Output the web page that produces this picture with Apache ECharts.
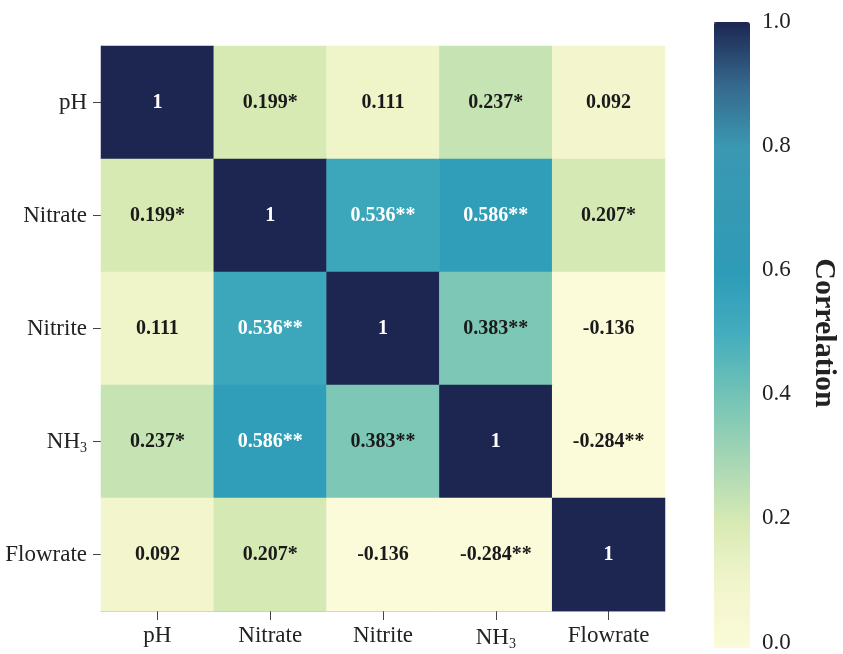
<!DOCTYPE html>
<html>
<head>
<meta charset="utf-8">
<script src="https://cdn.jsdelivr.net/npm/echarts@6/dist/echarts.min.js"></script>
<style>html,body{margin:0;padding:0;background:#fff}#c{width:843px;height:654px}</style>
</head>
<body>
<div id="c"></div>
<script>
const categories = ['pH', 'Nitrate', 'Nitrite', 'NH3', 'Flowrate'];
const rowPH       = [1, 0.199, 0.111, 0.237, 0.092];
const rowNitrate  = [0.199, 1, 0.536, 0.586, 0.207];
const rowNitrite  = [0.111, 0.536, 1, 0.383, -0.136];
const rowNH3      = [0.237, 0.586, 0.383, 1, -0.284];
const rowFlowrate = [0.092, 0.207, -0.136, -0.284, 1];
const sigPH       = ['', '*', '', '*', ''];
const sigNitrate  = ['*', '', '**', '**', '*'];
const sigNitrite  = ['', '**', '', '**', ''];
const sigNH3      = ['*', '**', '**', '', '**'];
const sigFlowrate = ['', '*', '', '**', ''];
const colorbarTicks = [0, 0.2, 0.4, 0.6, 0.8, 1.0];

const rows = [rowPH, rowNitrate, rowNitrite, rowNH3, rowFlowrate];
const sigs = [sigPH, sigNitrate, sigNitrite, sigNH3, sigFlowrate];
const FONT = '"Liberation Serif", "Times New Roman", serif';

const data = [];
rows.forEach((r, yi) => r.forEach((v, xi) => {
  data.push({
    value: [xi, yi, v],
    label: { color: v > 0.5 ? '#ffffff' : '#1a1a1a', formatter: (v === 1 ? '1' : String(v)) + sigs[yi][xi] }
  });
}));

function catLabel(v) {
  return v === 'NH3' ? '{n|NH}{s|3}' : '{n|' + v + '}';
}
const rich = {
  n: { fontFamily: FONT, fontSize: 23, color: '#222' },
  s: { fontFamily: FONT, fontSize: 14, color: '#222', padding: [13, 0, 0, 0] }
};

const chart = echarts.init(document.getElementById('c'));
chart.setOption({
  animation: false,
  backgroundColor: '#fff',
  grid: [
    { left: 101, top: 46, width: 564, height: 565 },
    { left: 714, top: 22, width: 36, height: 626 }
  ],
  xAxis: [
    { type: 'category', data: categories, gridIndex: 0, position: 'bottom',
      axisLine: { show: true, lineStyle: { color: '#c8c8c8' } },
      axisTick: { show: true, alignWithLabel: true, length: 9, lineStyle: { color: '#444' } },
      axisLabel: { margin: 13, formatter: catLabel, rich: rich },
      splitLine: { show: false } },
    { type: 'value', gridIndex: 1, show: false, min: 0, max: 1 }
  ],
  yAxis: [
    { type: 'category', data: categories, gridIndex: 0, inverse: true,
      axisLine: { show: true, lineStyle: { color: '#c8c8c8' } },
      axisTick: { show: true, alignWithLabel: true, length: 8, lineStyle: { color: '#444' } },
      axisLabel: { margin: 14, formatter: catLabel, rich: rich },
      splitLine: { show: false } },
    { type: 'value', gridIndex: 1, min: 0, max: 1, interval: 0.2, position: 'right',
      axisLine: { show: false },
      axisTick: { show: true, length: 7, lineStyle: { color: '#444' } },
      axisLabel: { margin: 12, fontFamily: FONT, fontSize: 23, color: '#222',
                   formatter: v => v.toFixed(1) },
      splitLine: { show: false } }
  ],
  visualMap: {
    type: 'continuous', min: 0, max: 1, seriesIndex: 0,
    calculable: false, orient: 'vertical',
    left: 714, top: 22, itemWidth: 36, itemHeight: 626, padding: 0,
    text: null, showLabel: false,
    inRange: { color: ['#fbfad9', '#f2f5cc', '#d8eab4', '#a6d6b4', '#74c4b6', '#44adbd',
                       '#2e9bb8', '#3699b4', '#3a98b2', '#35688c', '#1c2651'] },
    outOfRange: { color: '#f8f8d7' }
  },
  series: [{
    type: 'heatmap', xAxisIndex: 0, yAxisIndex: 0, data: data,
    label: { show: true, fontFamily: FONT, fontSize: 20, fontWeight: 'bold' },
    itemStyle: { borderWidth: 0 },
    emphasis: { disabled: true }
  }],
  graphic: [{
    type: 'text', x: 824, y: 333, rotation: -Math.PI / 2,
    style: { text: 'Correlation', font: 'bold 30px ' + FONT, fill: '#222',
             textAlign: 'center', textVerticalAlign: 'middle' }
  }]
});
</script>
</body>
</html>
